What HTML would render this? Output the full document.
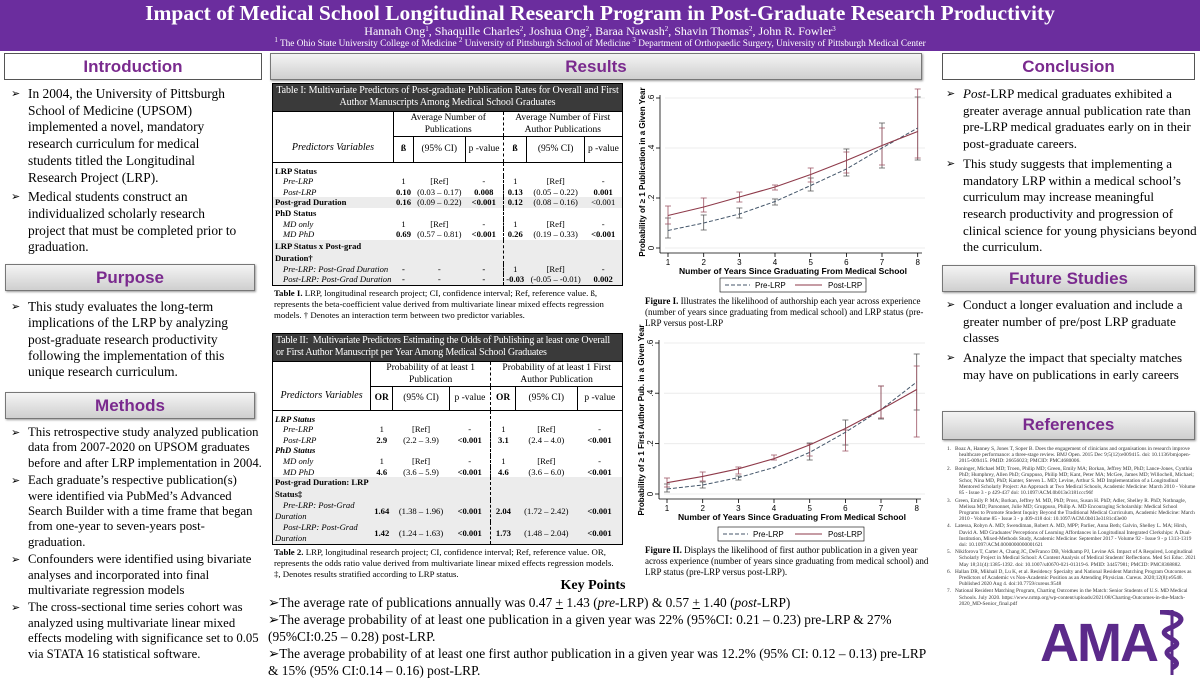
<!DOCTYPE html>
<html><head><meta charset="utf-8"><style>
*{margin:0;padding:0;box-sizing:border-box}
body{width:1200px;height:675px;overflow:hidden;background:#fff;font-family:"Liberation Serif",serif;color:#000;position:relative}
.abs{position:absolute}
sup{font-size:7px;line-height:0;vertical-align:4px}
#hdr{left:0;top:0;width:1200px;height:51px;background:#6b2d9e;color:#fff;text-align:center;overflow:hidden}
#hdr .t{font-weight:bold;font-size:21.5px;line-height:23px;padding-top:2px}
#hdr .a{font-size:12px;line-height:13px}
#hdr .f{font-size:9.3px;line-height:12px}
.sh{position:absolute;height:27px;border:1px solid #777;background:linear-gradient(#f4f4f4,#cfcfcf);color:#7a2a8e;font-family:"Liberation Sans",sans-serif;font-weight:bold;font-size:17px;text-align:center;line-height:25px;box-shadow:1px 1px 2px #999}
.sh.w{background:#fff;border:1px solid #555;box-shadow:none}
ul.b{position:absolute;list-style:none;font-size:13px;line-height:16.7px}
ul.b.n li{white-space:nowrap;font-size:13.4px}
ul.b li{padding-left:20px;position:relative;margin-bottom:3px}
ul.b li:before{content:"➢";position:absolute;left:3px;top:0;font-family:"DejaVu Sans",sans-serif;font-size:11px}
table{border-collapse:collapse;font-size:8.6px;line-height:10.6px;width:100%}
td{padding:0 2px;text-align:center;white-space:nowrap}
.tt{background:#3a3a3a;color:#fff;font-size:10px;line-height:12.3px;padding:1px 3px;text-align:center;border:1px solid #000;letter-spacing:-0.1px}
.tb{border:1px solid #000;border-top:none}
td.l{text-align:left}
td.i{text-align:left;font-style:italic;padding-left:10px}
.bd{font-weight:bold}
.sh2 td{background:#ececec}
.dv{border-right:1px dashed #000}
.cap{font-size:8.8px;line-height:11px;padding:2px 2px}
.kp{font-size:13.4px;line-height:17px}
.ref{font-size:5.3px;line-height:6.2px;color:#333}
.ref div{padding-left:12px;text-indent:-12px;margin-bottom:1px}
</style></head><body>
<div id="hdr" class="abs">
<div class="t">Impact of Medical School Longitudinal Research Program in Post-Graduate Research Productivity</div>
<div class="a">Hannah Ong<sup>1</sup>, Shaquille Charles<sup>2</sup>, Joshua Ong<sup>2</sup>, Baraa Nawash<sup>2</sup>, Shavin Thomas<sup>2</sup>, John R. Fowler<sup>3</sup></div>
<div class="f"><sup>1</sup> The Ohio State University College of Medicine <sup>2</sup> University of Pittsburgh School of Medicine <sup>3</sup> Department of Orthopaedic Surgery, University of Pittsburgh Medical Center</div>
</div>

<div class="sh w" style="left:4px;top:53px;width:258px">Introduction</div>
<ul class="b n" style="left:8px;top:86px;width:256px">
<li>In 2004, the University of Pittsburgh<br>School of Medicine (UPSOM)<br>implemented a novel, mandatory<br>research curriculum for medical<br>students titled the Longitudinal<br>Research Project (LRP).</li>
<li>Medical students construct an<br>individualized scholarly research<br>project that must be completed prior to<br>graduation.</li></ul>
<div class="sh" style="left:5px;top:264px;width:250px">Purpose</div>
<ul class="b n" style="left:8px;top:299px;width:256px;line-height:16.3px">
<li>This study evaluates the long-term<br>implications of the LRP by analyzing<br>post-graduate research productivity<br>following the implementation of this<br>unique research curriculum.</li></ul>
<div class="sh" style="left:5px;top:392px;width:250px">Methods</div>
<ul class="b n" style="left:8px;top:425px;width:256px;line-height:15.4px">
<li style="margin-bottom:2px;font-size:12.7px">This retrospective study analyzed publication<br>data from 2007-2020 on UPSOM graduates<br>before and after LRP implementation in 2004.</li>
<li style="margin-bottom:2px;font-size:12.7px">Each graduate’s respective publication(s)<br>were identified via PubMed’s Advanced<br>Search Builder with a time frame that began<br>from one-year to seven-years post-<br>graduation.</li>
<li style="margin-bottom:2px;font-size:12.7px">Confounders were identified using bivariate<br>analyses and incorporated into final<br>multivariate regression models</li>
<li style="font-size:12.7px">The cross-sectional time series cohort was<br>analyzed using multivariate linear mixed<br>effects modeling with significance set to 0.05<br>via STATA 16 statistical software.</li></ul>

<div class="sh" style="left:270px;top:53px;width:652px">Results</div>

<div class="abs" style="left:272px;top:83px;width:351px">
<div class="tt">Table I: Multivariate Predictors of Post-graduate Publication Rates for Overall and First Author Manuscripts Among Medical School Graduates</div>
<div class="tb"><table>
<tr><td rowspan="2" style="font-style:italic;font-size:10px;border-bottom:1px solid #000;vertical-align:bottom;padding-bottom:8px;width:90px">Predictors Variables</td><td colspan="3" class="dv" style="border-left:1px solid #000;border-bottom:1px solid #000;font-size:9.5px;line-height:12px">Average Number of<br>Publications</td><td colspan="3" style="border-bottom:1px solid #000;font-size:9.5px;line-height:12px">Average Number of First<br>Author Publications</td></tr>
<tr style="height:26px;font-size:9.5px"><td class="bd" style="border:1px solid #000;border-top:none">ß</td><td style="border:1px solid #000;border-top:none">(95% CI)</td><td class="dv" style="border-bottom:1px solid #000">p -value</td><td class="bd" style="border:1px solid #000;border-top:none;border-left:none">ß</td><td style="border:1px solid #000;border-top:none">(95% CI)</td><td style="border-bottom:1px solid #000">p -value</td></tr>
<tr><td class="l bd" style="padding-top:3px">LRP Status</td><td></td><td></td><td class="dv"></td><td></td><td></td><td></td></tr>
<tr><td class="i">Pre-LRP</td><td>1</td><td>[Ref]</td><td class="dv">-</td><td>1</td><td>[Ref]</td><td>-</td></tr>
<tr><td class="i">Post-LRP</td><td class="bd">0.10</td><td>(0.03 – 0.17)</td><td class="dv bd">0.008</td><td class="bd">0.13</td><td>(0.05 – 0.22)</td><td class="bd">0.001</td></tr>
<tr class="sh2"><td class="l bd">Post-grad Duration</td><td class="bd">0.16</td><td>(0.09 – 0.22)</td><td class="dv bd">&lt;0.001</td><td class="bd">0.12</td><td>(0.08 – 0.16)</td><td>&lt;0.001</td></tr>
<tr><td class="l bd">PhD Status</td><td></td><td></td><td class="dv"></td><td></td><td></td><td></td></tr>
<tr><td class="i">MD only</td><td>1</td><td>[Ref]</td><td class="dv">-</td><td>1</td><td>[Ref]</td><td>-</td></tr>
<tr><td class="i">MD PhD</td><td class="bd">0.69</td><td>(0.57 – 0.81)</td><td class="dv bd">&lt;0.001</td><td class="bd">0.26</td><td>(0.19 – 0.33)</td><td class="bd">&lt;0.001</td></tr>
<tr class="sh2"><td class="l bd" style="line-height:12px">LRP Status x Post-grad<br>Duration†</td><td></td><td></td><td class="dv"></td><td></td><td></td><td></td></tr>
<tr class="sh2"><td class="i">Pre-LRP: Post-Grad Duration</td><td class="bd">-</td><td>-</td><td class="dv bd">-</td><td>1</td><td>[Ref]</td><td>-</td></tr>
<tr class="sh2"><td class="i">Post-LRP: Post-Grad Duration</td><td class="bd">-</td><td>-</td><td class="dv bd">-</td><td class="bd">-0.03</td><td>(-0.05 – -0.01)</td><td class="bd">0.002</td></tr>
</table></div>
<div class="cap"><b>Table I.</b> LRP, longitudinal research project; CI, confidence interval; Ref, reference value. ß, represents the beta-coefficient value derived from multivariate linear mixed effects regression models. † Denotes an interaction term between two predictor variables.</div>
</div>

<div class="abs" style="left:272px;top:333px;width:351px">
<div class="tt" style="text-align:left;letter-spacing:-0.2px;white-space:nowrap;overflow:hidden">Table II:&nbsp; Multivariate Predictors Estimating the Odds of Publishing at least one Overall<br>or First Author Manuscript per Year Among Medical School Graduates</div>
<div class="tb"><table>
<tr><td rowspan="2" style="font-style:italic;font-size:10px;border-bottom:1px solid #000;vertical-align:bottom;padding-bottom:8px;width:90px">Predictors Variables</td><td colspan="3" class="dv" style="border-left:1px solid #000;border-bottom:1px solid #000;font-size:9.5px;line-height:12px">Probability of at least 1<br>Publication</td><td colspan="3" style="border-bottom:1px solid #000;font-size:9.5px;line-height:12px">Probability of at least 1 First<br>Author Publication</td></tr>
<tr style="height:24px;font-size:9.5px"><td class="bd" style="border:1px solid #000;border-top:none">OR</td><td style="border:1px solid #000;border-top:none">(95% CI)</td><td class="dv" style="border-bottom:1px solid #000">p -value</td><td class="bd" style="border:1px solid #000;border-top:none;border-left:none">OR</td><td style="border:1px solid #000;border-top:none">(95% CI)</td><td style="border-bottom:1px solid #000">p -value</td></tr>
<tr><td class="l bd" style="font-style:italic;padding-top:3px">LRP Status</td><td></td><td></td><td class="dv"></td><td></td><td></td><td></td></tr>
<tr><td class="i">Pre-LRP</td><td>1</td><td>[Ref]</td><td class="dv">-</td><td>1</td><td>[Ref]</td><td>-</td></tr>
<tr><td class="i">Post-LRP</td><td class="bd">2.9</td><td>(2.2 – 3.9)</td><td class="dv bd">&lt;0.001</td><td class="bd">3.1</td><td>(2.4 – 4.0)</td><td class="bd">&lt;0.001</td></tr>
<tr><td class="l bd" style="font-style:italic">PhD Status</td><td></td><td></td><td class="dv"></td><td></td><td></td><td></td></tr>
<tr><td class="i">MD only</td><td>1</td><td>[Ref]</td><td class="dv">-</td><td>1</td><td>[Ref]</td><td>-</td></tr>
<tr><td class="i">MD PhD</td><td class="bd">4.6</td><td>(3.6 – 5.9)</td><td class="dv bd">&lt;0.001</td><td class="bd">4.6</td><td>(3.6 – 6.0)</td><td class="bd">&lt;0.001</td></tr>
<tr class="sh2"><td class="l bd" style="line-height:11.5px">Post-grad Duration: LRP<br>Status‡</td><td></td><td></td><td class="dv"></td><td></td><td></td><td></td></tr>
<tr class="sh2"><td class="i" style="line-height:11px">Pre-LRP: Post-Grad<br><span style="margin-left:-8px">Duration</span></td><td class="bd">1.64</td><td>(1.38 – 1.96)</td><td class="dv bd">&lt;0.001</td><td class="bd">2.04</td><td>(1.72 – 2.42)</td><td class="bd">&lt;0.001</td></tr>
<tr class="sh2"><td class="i" style="line-height:11px">Post-LRP: Post-Grad<br><span style="margin-left:-8px">Duration</span></td><td class="bd">1.42</td><td>(1.24 – 1.63)</td><td class="dv bd">&lt;0.001</td><td class="bd">1.73</td><td>(1.48 – 2.04)</td><td class="bd">&lt;0.001</td></tr>
</table></div>
<div class="cap"><b>Table 2.</b> LRP, longitudinal research project; CI, confidence interval; Ref, reference value. OR, represents the odds ratio value derived from multivariate linear mixed effects regression models. ‡, Denotes results stratified according to LRP status.</div>
</div>

<svg class="abs" style="left:635px;top:83px" width="305" height="500" viewBox="635 83 305 500" font-family="Liberation Sans, sans-serif">
<g font-size="8" fill="#000">
<g stroke="#ececec" stroke-width="1"><line x1="665" x2="925" y1="248" y2="248"/><line x1="665" x2="925" y1="198" y2="198"/><line x1="665" x2="925" y1="148" y2="148"/><line x1="665" x2="925" y1="98" y2="98"/></g>
<line x1="660" y1="95" x2="660" y2="253" stroke="#000" stroke-width=".8"/>
<line x1="660" y1="253" x2="922" y2="253" stroke="#000" stroke-width=".8"/>
<g stroke="#000" stroke-width=".8"><line x1="656" x2="660" y1="248" y2="248"/><line x1="656" x2="660" y1="198" y2="198"/><line x1="656" x2="660" y1="148" y2="148"/><line x1="656" x2="660" y1="98" y2="98"/>
<path d="M668 253v4M703.7 253v4M739.4 253v4M775 253v4M810.7 253v4M846.4 253v4M882 253v4M917.7 253v4"/></g>
<g transform="rotate(-90)"><text x="-248" y="654" text-anchor="middle">0</text><text x="-198" y="654" text-anchor="middle">.2</text><text x="-148" y="654" text-anchor="middle">.4</text><text x="-98" y="654" text-anchor="middle">.6</text>
<text x="-172" y="645" text-anchor="middle" font-weight="bold" font-size="8">Probability of ≥ 1 Publication in a Given Year</text></g>
<g text-anchor="middle"><text x="668" y="265">1</text><text x="703.7" y="265">2</text><text x="739.4" y="265">3</text><text x="775" y="265">4</text><text x="810.7" y="265">5</text><text x="846.4" y="265">6</text><text x="882" y="265">7</text><text x="917.7" y="265">8</text>
<text x="793" y="274" font-weight="bold" font-size="8.5">Number of Years Since Graduating From Medical School</text></g>
<g stroke="#555" stroke-width=".8" fill="none">
<path d="M668 238v-20M665 238h6M665 218h6 M703.7 230v-15M700.7 230h6M700.7 215h6 M739.4 218v-10M736.4 218h6M736.4 208h6 M775 205v-6M772 205h6M772 199h6 M810.7 191v-13M807.7 191h6M807.7 178h6 M846.4 176v-27M843.4 176h6M843.4 149h6 M882 168v-45M879 168h6M879 123h6 M917.7 160v-63M914.7 160h6M914.7 97h6"/></g>
<g stroke="#9b5060" stroke-width=".8" fill="none">
<path d="M668 224v-18M665 224h6M665 206h6 M703.7 212v-14M700.7 212h6M700.7 198h6 M739.4 202v-10M736.4 202h6M736.4 192h6 M775 190v-5M772 190h6M772 185h6 M810.7 182v-14M807.7 182h6M807.7 168h6 M846.4 173v-21M843.4 173h6M843.4 152h6 M882 165v-37M879 165h6M879 128h6 M917.7 158v-69M914.7 158h6M914.7 89h6"/></g>
<polyline fill="none" stroke="#44566a" stroke-width="1" stroke-dasharray="4,2" points="668,230.5 703.7,223 739.4,214 775,201.5 810.7,185.5 846.4,169 882,148 917.7,128"/>
<polyline fill="none" stroke="#8e3a4a" stroke-width="1.1" points="668,215.5 703.7,207 739.4,197 775,187 810.7,174.5 846.4,160.5 882,145.5 917.7,131.5"/>
<rect x="720" y="278" width="146" height="14" fill="#fff" stroke="#000" stroke-width=".6"/>
<line x1="725" y1="285" x2="750" y2="285" stroke="#44566a" stroke-dasharray="4,2"/><text x="755" y="288">Pre-LRP</text>
<line x1="795" y1="285" x2="822" y2="285" stroke="#8e3a4a"/><text x="828" y="288">Post-LRP</text>

<g stroke="#ececec" stroke-width="1"><line x1="664" x2="925" y1="494" y2="494"/><line x1="664" x2="925" y1="443.6" y2="443.6"/><line x1="664" x2="925" y1="393.2" y2="393.2"/><line x1="664" x2="925" y1="343" y2="343"/></g>
<line x1="659" y1="340" x2="659" y2="499" stroke="#000" stroke-width=".8"/>
<line x1="659" y1="499" x2="921" y2="499" stroke="#000" stroke-width=".8"/>
<g stroke="#000" stroke-width=".8"><line x1="655" x2="659" y1="494" y2="494"/><line x1="655" x2="659" y1="443.6" y2="443.6"/><line x1="655" x2="659" y1="393.2" y2="393.2"/><line x1="655" x2="659" y1="343" y2="343"/>
<path d="M667 499v4M702.7 499v4M738.4 499v4M774 499v4M809.7 499v4M845.4 499v4M881 499v4M916.7 499v4"/></g>
<g transform="rotate(-90)"><text x="-494" y="653" text-anchor="middle">0</text><text x="-443.6" y="653" text-anchor="middle">.2</text><text x="-393.2" y="653" text-anchor="middle">.4</text><text x="-343" y="653" text-anchor="middle">.6</text>
<text x="-420" y="644" text-anchor="middle" font-weight="bold" font-size="8">Probability of ≥ 1 First Author Pub. in a Given Year</text></g>
<g text-anchor="middle"><text x="667" y="511">1</text><text x="702.7" y="511">2</text><text x="738.4" y="511">3</text><text x="774" y="511">4</text><text x="809.7" y="511">5</text><text x="845.4" y="511">6</text><text x="881" y="511">7</text><text x="916.7" y="511">8</text>
<text x="792" y="520" font-weight="bold" font-size="8.5">Number of Years Since Graduating From Medical School</text></g>
<g stroke="#555" stroke-width=".8" fill="none">
<path d="M667 492v-8M664 492h6M664 484h6 M702.7 488v-6M699.7 488h6M699.7 482h6 M738.4 480v-4M735.4 480h6M735.4 476h6 M774 469v-2M809.7 460v-17M806.7 460h6M806.7 443h6 M845.4 445v-25M842.4 445h6M842.4 420h6 M881 419v-33M878 419h6M878 386h6 M916.7 410v-56M913.7 410h6M913.7 354h6"/></g>
<g stroke="#9b5060" stroke-width=".8" fill="none">
<path d="M667 487v-9M664 487h6M664 478h6 M702.7 481v-9M699.7 481h6M699.7 472h6 M738.4 474v-7M735.4 474h6M735.4 467h6 M774 460v-5M771 460h6M771 455h6 M809.7 456v-12M806.7 456h6M806.7 444h6 M845.4 451v-21M842.4 451h6M842.4 430h6 M881 418v-32M878 418h6M878 386h6 M916.7 437v-71M913.7 437h6M913.7 366h6"/></g>
<polyline fill="none" stroke="#44566a" stroke-width="1" stroke-dasharray="4,2" points="667,489 702.7,485 738.4,477.6 774,467.5 809.7,452.4 845.4,432.3 881,409.6 916.7,382"/>
<polyline fill="none" stroke="#8e3a4a" stroke-width="1.1" points="667,482.7 702.7,476.4 738.4,468.8 774,458.7 809.7,444.9 845.4,428.5 881,409.6 916.7,389.5"/>
<rect x="718" y="527" width="146" height="14" fill="#fff" stroke="#000" stroke-width=".6"/>
<line x1="723" y1="534" x2="748" y2="534" stroke="#44566a" stroke-dasharray="4,2"/><text x="753" y="537">Pre-LRP</text>
<line x1="795" y1="534" x2="822" y2="534" stroke="#8e3a4a"/><text x="828" y="537">Post-LRP</text>
</g></svg>
<div class="abs cap" style="left:643px;top:294px;width:292px;font-size:9px"><b>Figure I.</b> Illustrates the likelihood of authorship each year across experience (number of years since graduating from medical school) and LRP status (pre-LRP versus post-LRP</div>
<div class="abs cap" style="left:643px;top:543px;width:292px;font-size:9px"><b>Figure II.</b> Displays the likelihood of first author publication in a given year across experience (number of years since graduating from medical school) and LRP status (pre-LRP versus post-LRP).</div>

<div class="abs kp" style="left:268px;top:578px;width:670px">
<div style="text-align:center;font-weight:bold;font-size:14px;line-height:16px;margin-left:-20px">Key Points</div>
<div>➢The average rate of publications annually was 0.47 <u>+</u> 1.43 (<i>pre</i>-LRP) &amp; 0.57 <u>+</u> 1.40 (<i>post</i>-LRP)</div>
<div>➢The average probability of at least one publication in a given year was 22% (95%CI: 0.21 – 0.23) pre-LRP &amp; 27% <span style="padding-left:6px"></span>(95%CI:0.25 – 0.28) post-LRP.</div>
<div>➢The average probability of at least one first author publication in a given year was 12.2% (95% CI: 0.12 – 0.13) pre-LRP <span style="padding-left:6px"></span>&amp; 15% (95% CI:0.14 – 0.16) post-LRP.</div>
</div>

<div class="sh w" style="left:942px;top:53px;width:253px">Conclusion</div>
<ul class="b" style="left:943px;top:86px;width:254px">
<li><i>Post</i>-LRP medical graduates exhibited a greater average annual publication rate than pre-LRP medical graduates early on in their post-graduate careers.</li>
<li>This study suggests that implementing a mandatory LRP within a medical school’s curriculum may increase meaningful research productivity and progression of clinical science for young physicians beyond the curriculum.</li></ul>
<div class="sh" style="left:942px;top:265px;width:253px">Future Studies</div>
<ul class="b" style="left:943px;top:297px;width:254px">
<li>Conduct a longer evaluation and include a greater number of pre/post LRP graduate classes</li>
<li>Analyze the impact that specialty matches may have on publications in early careers</li></ul>
<div class="sh" style="left:942px;top:411px;width:253px;height:29px">References</div>
<div class="abs ref" style="left:947px;top:446px;width:250px">
<div>1.&nbsp;&nbsp; Boaz A, Hanney S, Jones T, Soper B. Does the engagement of clinicians and organisations in research improve healthcare performance: a three-stage review. BMJ Open. 2015 Dec 9;5(12):e009415. doi: 10.1136/bmjopen-2015-009415. PMID: 26656023; PMCID: PMC4680006.</div>
<div>2.&nbsp;&nbsp; Boninger, Michael MD; Troen, Philip MD; Green, Emily MA; Borkan, Jeffrey MD, PhD; Lance-Jones, Cynthia PhD; Humphrey, Allen PhD; Gruppuso, Philip MD; Kant, Peter MA; McGee, James MD; Willochell, Michael; Schor, Nina MD, PhD; Kanter, Steven L. MD; Levine, Arthur S. MD Implementation of a Longitudinal Mentored Scholarly Project: An Approach at Two Medical Schools, Academic Medicine: March 2010 - Volume 85 - Issue 3 - p 429-437 doi: 10.1097/ACM.0b013e3181ccc96f</div>
<div>3.&nbsp;&nbsp; Green, Emily P. MA; Borkan, Jeffrey M. MD, PhD; Pross, Susan H. PhD; Adler, Shelley R. PhD; Nothnagle, Melissa MD; Parsonnet, Julie MD; Gruppuso, Philip A. MD Encouraging Scholarship: Medical School Programs to Promote Student Inquiry Beyond the Traditional Medical Curriculum, Academic Medicine: March 2010 - Volume 85 - Issue 3 - p 409-418 doi: 10.1097/ACM.0b013e3181cd3e00</div>
<div>4.&nbsp;&nbsp; Latessa, Robyn A. MD; Swendiman, Robert A. MD, MPP; Parlier, Anna Beth; Galvin, Shelley L. MA; Hirsh, David A. MD Graduates' Perceptions of Learning Affordances in Longitudinal Integrated Clerkships: A Dual-Institution, Mixed-Methods Study, Academic Medicine: September 2017 - Volume 92 - Issue 9 - p 1313-1319 doi: 10.1097/ACM.0000000000001621</div>
<div>5.&nbsp;&nbsp; Nikiforova T, Carter A, Chang JC, DeFranco DB, Veldkamp PJ, Levine AS. Impact of A Required, Longitudinal Scholarly Project in Medical School: A Content Analysis of Medical Students' Reflections. Med Sci Educ. 2021 May 18;31(4):1385-1392. doi: 10.1007/s40670-021-01319-6. PMID: 34457981; PMCID: PMC8368882.</div>
<div>6.&nbsp;&nbsp; Hallan DR, Mikhail D, Lu K, et al. Residency Specialty and National Resident Matching Program Outcomes as Predictors of Academic vs Non-Academic Position as an Attending Physician. Cureus. 2020;12(8):e9548. Published 2020 Aug 4. doi:10.7759/cureus.9548</div>
<div>7.&nbsp;&nbsp; National Resident Matching Program, Charting Outcomes in the Match: Senior Students of U.S. MD Medical Schools. July 2020. https://www.nrmp.org/wp-content/uploads/2021/08/Charting-Outcomes-in-the-Match-2020_MD-Senior_final.pdf</div>
</div>
<div class="abs" style="left:1040px;top:616px;font-family:'Liberation Sans',sans-serif;font-weight:bold;font-size:54px;line-height:54px;color:#5b2a8a;letter-spacing:-2px">AMA</div>
<svg class="abs" style="left:1150px;top:610px" width="45" height="65"><path d="M10 2 C30 2 40 10 20 18 C0 26 40 30 22 38 C5 46 38 50 22 58" stroke="#5b2a8a" stroke-width="5" fill="none"/><line x1="22" y1="0" x2="22" y2="65" stroke="#5b2a8a" stroke-width="3"/></svg>
</body></html>
